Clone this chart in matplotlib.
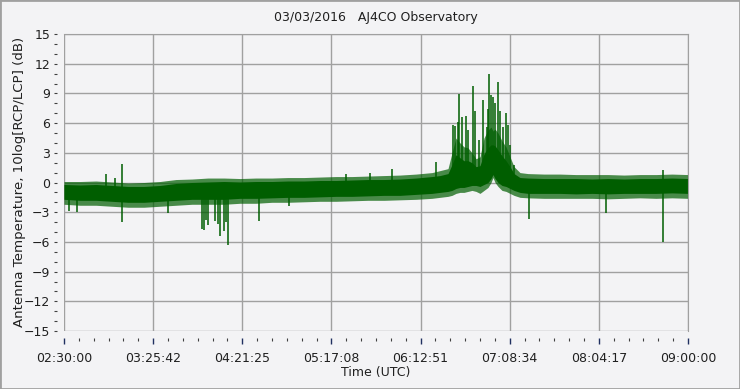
import numpy as np
import matplotlib
matplotlib.use("Agg")
import matplotlib.pyplot as plt
from matplotlib.ticker import MultipleLocator
from matplotlib.patches import Rectangle

# minutes after 02:30:00 UTC, envelope of the noisy trace
t_env = [0, 10, 20, 30, 40, 50, 60, 70, 80, 90, 100, 110, 120, 130, 140, 150,
         160, 170, 180, 190, 200, 210, 220, 230, 235, 240,
         242.5, 245, 247.5, 250, 252.5, 255, 257.5, 260, 262.5, 265, 266.9,
         268.1, 269.4, 271.25, 273.75, 276.25, 278.75, 281.25,
         285, 290, 300, 310, 320, 330, 340, 350, 360, 370, 380, 390]
outer_top = [0.1, 0.1, 0.15, 0.05, -0.05, 0.0, 0.1, 0.3, 0.35, 0.45, 0.45, 0.4, 0.45, 0.45, 0.5, 0.5,
             0.55, 0.6, 0.6, 0.65, 0.7, 0.75, 0.85, 1.0, 1.2, 1.4,
             3.0, 4.5, 4.0, 3.6, 3.5, 3.0, 2.4, 2.6, 4.5, 5.3, 5.6,
             5.2, 5.4, 5.0, 4.2, 3.6, 2.6, 1.6,
             1.0, 0.9, 0.85, 0.85, 0.8, 0.8, 0.8, 0.75, 0.8, 0.8, 0.85, 0.8]
core_top = [-0.2, -0.25, -0.2, -0.3, -0.4, -0.4, -0.3, -0.1, 0.0, 0.05, 0.1, 0.05, 0.1, 0.1, 0.15, 0.15,
            0.2, 0.2, 0.25, 0.3, 0.3, 0.35, 0.45, 0.6, 0.7, 0.9,
            1.8, 2.8, 2.5, 2.2, 2.2, 2.0, 1.6, 1.7, 2.9, 3.5, 3.8,
            3.8, 3.7, 3.3, 2.7, 2.2, 1.6, 0.9,
            0.5, 0.45, 0.4, 0.4, 0.4, 0.35, 0.4, 0.35, 0.4, 0.4, 0.45, 0.4]
core_bot = [-1.7, -1.8, -1.8, -1.9, -2.0, -2.0, -1.9, -1.8, -1.7, -1.7, -1.7, -1.6, -1.6, -1.55, -1.5, -1.5,
            -1.45, -1.4, -1.4, -1.35, -1.3, -1.3, -1.2, -1.1, -1.0, -0.9,
            -0.8, -0.6, -0.5, -0.5, -0.4, -0.3, -0.3, -0.4, -0.2, 0.0, 0.4,
            0.8, 0.4, 0.0, -0.3, -0.4, -0.6, -0.8,
            -1.0, -1.1, -1.1, -1.1, -1.15, -1.1, -1.15, -1.1, -1.1, -1.1, -1.05, -1.1]
outer_bot = [-2.2, -2.3, -2.3, -2.4, -2.5, -2.5, -2.4, -2.3, -2.2, -2.2, -2.2, -2.1, -2.1, -2.0, -2.0, -1.95,
             -1.9, -1.9, -1.85, -1.8, -1.8, -1.75, -1.7, -1.6, -1.5, -1.4,
             -1.3, -1.1, -1.0, -1.0, -0.9, -0.8, -0.9, -1.1, -0.8, -0.5, 0.0,
             0.5, 0.0, -0.4, -0.8, -0.9, -1.1, -1.3,
             -1.5, -1.55, -1.6, -1.6, -1.6, -1.6, -1.65, -1.6, -1.55, -1.6, -1.55, -1.6]

# isolated spikes (minutes, dB)
spike_t = [26.1, 31.9, 36.4, 176, 191.25, 204.8, 232.5, 374.6,
           243.3, 244.4, 246.1, 247.1, 248.6, 251.1, 252.3, 255.8, 257.1, 259.4,
           262.1, 264.2, 264.8, 265.8, 266.9, 268.3, 269.4, 271.4, 272.7, 274.6,
           276.1, 277.3, 278.75, 281.4]
spike_v = [0.9, 0.5, 1.85, 0.9, 1.0, 1.4, 2.1, 1.3,
           5.8, 5.7, 6.15, 8.95, 6.65, 6.7, 5.3, 9.7, 7.2, 4.3,
           8.35, 5.65, 7.4, 10.95, 8.85, 8.6, 8.0, 10.2, 7.2, 5.6,
           7.0, 5.8, 3.8, 1.8]
dip_t = [3.1, 8.1, 36.4, 65, 86.3, 87.7, 89, 90.2, 94.5, 96.5, 97.7, 99.8, 101.3, 102.3,
         121.9, 140.8, 290.8, 338.9, 374.6]
dip_v = [-2.9, -3.0, -4.0, -3.1, -4.7, -4.8, -3.8, -4.3, -3.9, -4.2, -5.45, -4.9, -4.0, -6.35,
         -3.9, -2.4, -3.7, -3.1, -6.0]

xtick_labels = ["02:30:00", "03:25:42", "04:21:25", "05:17:08",
                "06:12:51", "07:08:34", "08:04:17", "09:00:00"]

bg = "#F3F3F5"
green = "#005E00"

fig = plt.figure(figsize=(7.4, 3.89), dpi=100, facecolor=bg)
ax = fig.add_axes([64 / 740, 1 - 331 / 389, 624 / 740, 297 / 389])
ax.set_facecolor(bg)

ax.fill_between(t_env, outer_bot, outer_top, color=green, alpha=0.7, lw=0)
ax.fill_between(t_env, core_bot, core_top, color=green, lw=0)
mid = (np.array(core_top) + np.array(core_bot)) / 2
ax.vlines(spike_t, np.interp(spike_t, t_env, mid), spike_v, color=green, lw=1.1)
ax.vlines(dip_t, np.interp(dip_t, t_env, mid), dip_v, color=green, lw=1.1)

ax.set_xlim(0, 390)
ax.set_ylim(-15, 15)
ax.set_xticks(np.linspace(0, 390, 8))
ax.set_xticklabels(xtick_labels)
ax.xaxis.set_minor_locator(MultipleLocator(390 / 42))
ax.yaxis.set_major_locator(MultipleLocator(3))
ax.yaxis.set_minor_locator(MultipleLocator(1))
ax.grid(True, which="major", color="#A0A0A0", lw=1)
ax.set_axisbelow(True)

for s in ["left", "bottom"]:
    ax.spines[s].set_position(("outward", 5))
    ax.spines[s].set_linewidth(0)
for s in ["top", "right"]:
    ax.spines[s].set_color("#A0A0A0")
ax.tick_params(axis="x", which="major", length=4, width=1, color="#203060",
               labelsize=9, pad=6, labelcolor="#202020")
ax.tick_params(axis="x", which="minor", length=2.5, width=0.8, color="#404040")
ax.tick_params(axis="y", which="major", length=2, width=0.8, color="#404040",
               labelsize=9, pad=3, labelcolor="#202020")
ax.tick_params(axis="y", which="minor", length=2, width=0.8, color="#404040")

ax.set_xlabel("Time (UTC)", fontsize=9, color="#202020", labelpad=1)
fig.text(20 / 740, 1 - 182 / 389, "Antenna Temperature, 10log[RCP/LCP] (dB)",
         rotation=90, ha="center", va="center", fontsize=9.6, color="#202020")
fig.text(376 / 740, 1 - 18 / 389, "03/03/2016   AJ4CO Observatory",
         ha="center", va="center", fontsize=9, color="#202020")

fig.patches.append(Rectangle((0, 0), 1, 1, transform=fig.transFigure,
                             fill=False, edgecolor="#A0A0A0", lw=2))

fig.savefig("out.png", dpi=100, facecolor=bg)
